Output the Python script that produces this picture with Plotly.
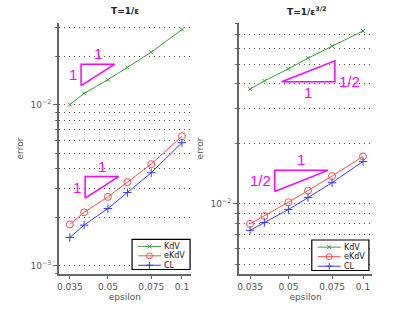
import numpy as np
import plotly.graph_objects as go

# ---- data ----
epsilon = [0.035, 0.04, 0.05, 0.06, 0.075, 0.1]

# left panel: T = 1/eps
kdv_1 = [0.0100, 0.01174, 0.01427, 0.01699, 0.02115, 0.0292]
ekdv_1 = [0.00181, 0.00215, 0.00268, 0.00331, 0.00428, 0.00637]
cl_1 = [0.00150, 0.00179, 0.00227, 0.00285, 0.00378, 0.00581]

# right panel: T = 1/eps^(3/2)
kdv_2 = [0.0375, 0.0412, 0.0473, 0.0535, 0.0614, 0.0731]
ekdv_2 = [0.00795, 0.00871, 0.0102, 0.01166, 0.01378, 0.01727]
cl_2 = [0.00738, 0.00808, 0.00938, 0.01076, 0.01277, 0.0163]

series_names = ["KdV", "eKdV", "CL"]
x_ticks = [0.035, 0.05, 0.075, 0.1]
x_ticklabels = ["0.035", "0.05", "0.075", "0.1"]
y1_major = [1e-3, 1e-2]
y1_major_labels = ["10<sup>−3</sup>", "10<sup>−2</sup>"]
y2_major = [1e-2]
y2_major_labels = ["10<sup>−2</sup>"]

# slope triangles (x, y vertices, closed)
tri1a_x = [0.0389, 0.0389, 0.0533, 0.0389]
tri1a_y = [0.0131, 0.01782, 0.01782, 0.0131]
tri1b_x = [0.0404, 0.0404, 0.0553, 0.0404]
tri1b_y = [0.00263, 0.00358, 0.00358, 0.00263]
tri2a_x = [0.047, 0.077, 0.077, 0.047]
tri2a_y = [0.0408, 0.0408, 0.0519, 0.0408]
tri2b_x = [0.044, 0.044, 0.0722, 0.044]
tri2b_y = [0.01153, 0.01472, 0.01472, 0.01153]

GREEN = "#3aa03a"
RED = "#ff4d4d"
BLUE = "#3b3bff"
COLORS = [GREEN, RED, BLUE]
MAG = "#ff00ff"
AX = "#666666"
W, H = 412, 310

fig = go.Figure()

def add_series(xa, ya, kdv, ekdv, cl):
    fig.add_trace(go.Scatter(x=epsilon, y=kdv, mode="lines+markers", name="KdV",
                             line=dict(color=GREEN, width=1),
                             marker=dict(symbol="x-thin-open", size=4, line=dict(color=GREEN, width=1)),
                             xaxis=xa, yaxis=ya, showlegend=False))
    fig.add_trace(go.Scatter(x=epsilon, y=ekdv, mode="lines+markers", name="eKdV",
                             line=dict(color=RED, width=1),
                             marker=dict(symbol="circle-open", size=7, color=RED, line=dict(color=RED, width=1)),
                             xaxis=xa, yaxis=ya, showlegend=False))
    fig.add_trace(go.Scatter(x=epsilon, y=cl, mode="lines+markers", name="CL",
                             line=dict(color=BLUE, width=1),
                             marker=dict(symbol="cross-thin-open", size=6, line=dict(color=BLUE, width=1)),
                             xaxis=xa, yaxis=ya, showlegend=False))

add_series("x", "y", kdv_1, ekdv_1, cl_1)
add_series("x2", "y2", kdv_2, ekdv_2, cl_2)

for tx, ty, xa, ya in [(tri1a_x, tri1a_y, "x", "y"), (tri1b_x, tri1b_y, "x", "y"),
                       (tri2a_x, tri2a_y, "x2", "y2"), (tri2b_x, tri2b_y, "x2", "y2")]:
    fig.add_trace(go.Scatter(x=tx, y=ty, mode="lines", line=dict(color=MAG, width=1.5),
                             showlegend=False, hoverinfo="skip", xaxis=xa, yaxis=ya))

lab_font = dict(family="Liberation Sans", size=15, color=MAG)
L = np.log10
labels = [
    ("x", "y", 10**((L(tri1a_x[0]) + L(tri1a_x[2])) / 2), tri1a_y[1], "1", "center", "bottom", 0, 0),
    ("x", "y", tri1a_x[0], 10**((L(tri1a_y[0]) + L(tri1a_y[1])) / 2), "1", "right", "middle", -2, 0),
    ("x", "y", 10**((L(tri1b_x[0]) + L(tri1b_x[2])) / 2), tri1b_y[1], "1", "center", "bottom", 0, 0),
    ("x", "y", tri1b_x[0], 10**((L(tri1b_y[0]) + L(tri1b_y[1])) / 2), "1", "right", "middle", -2, 0),
    ("x2", "y2", 10**((L(tri2a_x[0]) + L(tri2a_x[1])) / 2), tri2a_y[0], "1", "center", "top", 0, 0),
    ("x2", "y2", tri2a_x[1], 10**((L(tri2a_y[1]) + L(tri2a_y[0])) / 2), "1/2", "left", "middle", 2, 0),
    ("x2", "y2", 10**((L(tri2b_x[0]) + L(tri2b_x[2])) / 2), tri2b_y[1], "1", "center", "bottom", 0, 0),
    ("x2", "y2", tri2b_x[0], 10**((L(tri2b_y[0]) + L(tri2b_y[1])) / 2), "1/2", "right", "middle", -2, 0),
]
annotations = []
for xa, ya, x, y, t, xan, yan, xs, ys in labels:
    annotations.append(dict(xref=xa, yref=ya, x=L(x), y=L(y), text=t, showarrow=False,
                            xanchor=xan, yanchor=yan, xshift=xs, yshift=ys, font=lab_font))

title_font = dict(family="DejaVu Sans", size=9, color="#222222")
annotations.append(dict(xref="paper", yref="paper", x=124 / W, y=1 - 11 / H, text="<b>T=1/ε</b>",
                        showarrow=False, xanchor="center", yanchor="middle", font=title_font))
annotations.append(dict(xref="paper", yref="paper", x=306 / W, y=1 - 11 / H, text="<b>T=1/ε<sup>3/2</sup></b>",
                        showarrow=False, xanchor="center", yanchor="middle", font=title_font))

# ---- hand-built compact legends (boxes in pixel positions) ----
shapes = []
def px(x):
    return x / W
def py(y):
    return 1 - y / H

def legend_box(x0, y0, x1, y1):
    shapes.append(dict(type="rect", xref="paper", yref="paper", x0=px(x0), x1=px(x1),
                       y0=py(y1), y1=py(y0), line=dict(color="black", width=1.2),
                       fillcolor="white", layer="above"))
    row_h = (y1 - y0) / 3.2
    for i, (name, col) in enumerate(zip(series_names, COLORS)):
        yy = y0 + row_h * (0.75 + i)
        lx0, lx1 = x0 + 6, x0 + 29
        cx = (lx0 + lx1) / 2
        shapes.append(dict(type="line", xref="paper", yref="paper", x0=px(lx0), x1=px(lx1),
                           y0=py(yy), y1=py(yy), line=dict(color=col, width=1), layer="above"))
        if name == "KdV":
            r = 2
            shapes.append(dict(type="line", xref="paper", yref="paper", x0=px(cx - r), x1=px(cx + r),
                               y0=py(yy - r), y1=py(yy + r), line=dict(color=col, width=1), layer="above"))
            shapes.append(dict(type="line", xref="paper", yref="paper", x0=px(cx - r), x1=px(cx + r),
                               y0=py(yy + r), y1=py(yy - r), line=dict(color=col, width=1), layer="above"))
        elif name == "eKdV":
            r = 3
            shapes.append(dict(type="circle", xref="paper", yref="paper", x0=px(cx - r), x1=px(cx + r),
                               y0=py(yy + r), y1=py(yy - r), line=dict(color=col, width=1),
                               fillcolor="rgba(0,0,0,0)", layer="above"))
        else:
            r = 3.5
            shapes.append(dict(type="line", xref="paper", yref="paper", x0=px(cx - r), x1=px(cx + r),
                               y0=py(yy), y1=py(yy), line=dict(color=col, width=1), layer="above"))
            shapes.append(dict(type="line", xref="paper", yref="paper", x0=px(cx), x1=px(cx),
                               y0=py(yy - r), y1=py(yy + r), line=dict(color=col, width=1), layer="above"))
        annotations.append(dict(xref="paper", yref="paper", x=px(lx1 + 1.5), y=py(yy), text=name,
                                showarrow=False, xanchor="left", yanchor="middle",
                                font=dict(family="DejaVu Sans", size=8, color="#222222")))

legend_box(130.7, 239.3, 189, 269.5)
legend_box(311.3, 240, 368.7, 270.5)

y_minor = [m * d for d in [1e-4, 1e-3, 1e-2, 1e-1] for m in range(2, 10)]
tick_font = dict(family="DejaVu Sans", size=9, color="#555555")
title_ax_font = dict(family="DejaVu Sans", size=9, color="#555555")

xcommon = dict(type="log", tickvals=x_ticks, ticktext=x_ticklabels, showgrid=False,
               showline=True, linecolor=AX, linewidth=1.5, ticks="outside", ticklen=3,
               tickcolor=AX, tickfont=tick_font, zeroline=False,
               title=dict(text="epsilon", font=title_ax_font, standoff=2), range=[-1.501, -0.963])
ycommon = dict(type="log", showgrid=True, griddash="1px,4px",
               gridcolor="#555555", gridwidth=1, showline=True, linecolor=AX, linewidth=1.5,
               ticks="outside", ticklen=4, tickcolor=AX, tickfont=tick_font, zeroline=False,
               minor=dict(tickvals=y_minor, ticks="outside", ticklen=2, tickcolor=AX,
                          showgrid=True, griddash="1px,4px", gridcolor="#555555", gridwidth=1),
               title=dict(text="error", font=title_ax_font, standoff=5))

ydom = [1 - 274 / H, 1 - 23 / H]
fig.update_layout(
    width=W, height=H,
    margin=dict(l=0, r=0, t=0, b=0),
    paper_bgcolor="white", plot_bgcolor="white",
    xaxis=dict(domain=[57 / W, 190 / W], anchor="y", **xcommon),
    yaxis=dict(domain=ydom, anchor="x", range=[-3.05, -1.494],
               tickvals=y1_major, ticktext=y1_major_labels, **ycommon),
    xaxis2=dict(domain=[238 / W, 372 / W], anchor="y2", **xcommon),
    yaxis2=dict(domain=ydom, anchor="x2", range=[-2.350, -1.096],
                tickvals=y2_major, ticktext=y2_major_labels, **ycommon),
    annotations=annotations,
    shapes=shapes,
    showlegend=False,
)

fig.write_html("out.html", config={"displayModeBar": False},
               post_script="document.body.style.margin='0';document.body.style.overflow='hidden';")
